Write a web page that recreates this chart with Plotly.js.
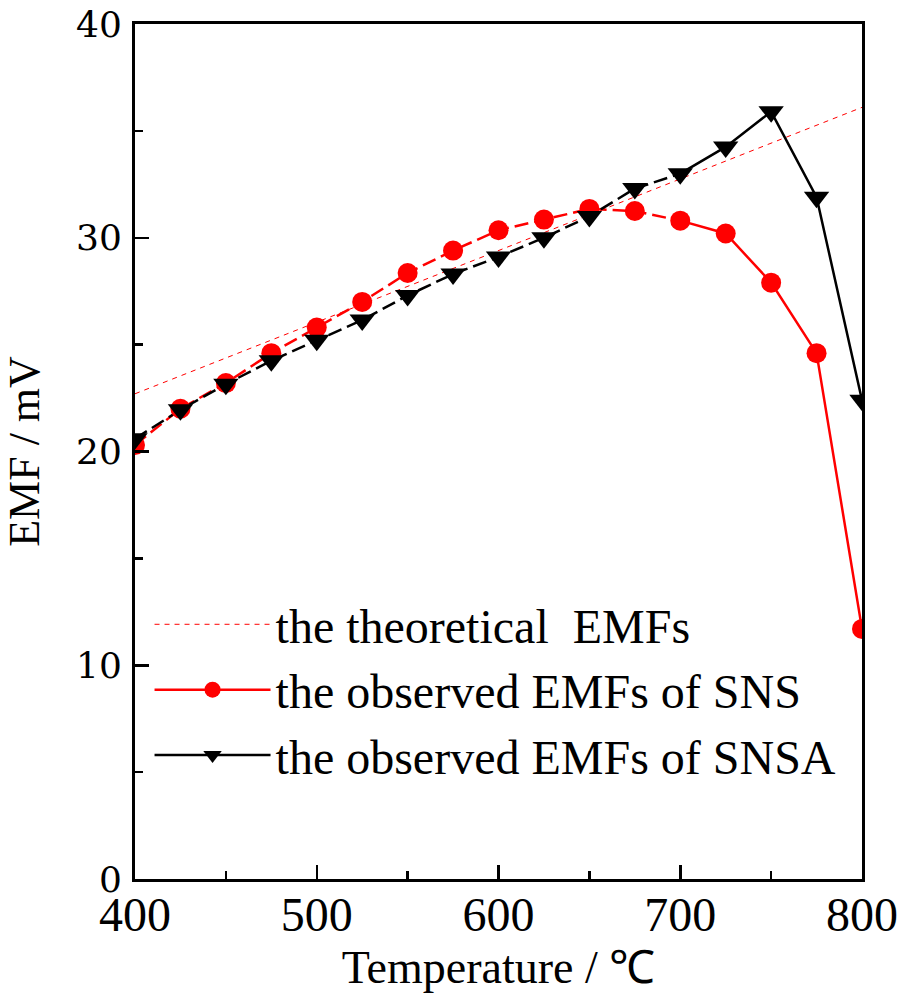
<!DOCTYPE html>
<html>
<head>
<meta charset="utf-8">
<script src="https://cdn.plot.ly/plotly-3.0.1.min.js"></script>
<style>html,body{margin:0;padding:0;background:#fff;}#chart{width:904px;height:993px;}</style>
</head>
<body>
<div id="chart"></div>
<script>
// Data
var temps = [400,425,450,475,500,525,550,575,600,625,650,675,700,725,750,775,800];
var sns   = [20.3,22.0,23.2,24.6,25.8,27.0,28.35,29.4,30.35,30.85,31.35,31.25,30.8,30.2,27.9,24.6,11.7];
var snsa  = [20.6,21.95,23.15,24.25,25.2,26.15,27.3,28.3,29.1,30.0,31.0,32.3,33.0,34.25,35.9,31.9,22.4];
var theoTemps = [400,800];
var theo      = [22.7,36.1];
var xTicks = [400,500,600,700,800];
var yTicks = [0,10,20,30,40];
var names = ['the theoretical  EMFs','the observed EMFs of SNS','the observed EMFs of SNSA'];

var split = temps.indexOf(700);
var dashPat = '14px,6px';
var serif = 'Liberation Serif';

var traces = [
  {x: theoTemps, y: theo, mode:'lines', name: names[0],
   line:{color:'#ff0000', width:1, dash:'5px,5px'}},
  {x: temps.slice(0,split+1), y: sns.slice(0,split+1), mode:'lines', showlegend:false,
   line:{color:'#ff0000', width:2.5, dash:dashPat}},
  {x: temps.slice(0,split+1), y: snsa.slice(0,split+1), mode:'lines', showlegend:false,
   line:{color:'#000000', width:2.5, dash:dashPat}},
  {x: temps.slice(0,split), y: sns.slice(0,split), mode:'markers', showlegend:false,
   marker:{symbol:'circle', size:20, color:'#ff0000'}},
  {x: temps.slice(0,split), y: snsa.slice(0,split), mode:'markers', showlegend:false,
   marker:{symbol:'triangle-down', size:22, color:'#000000'}},
  {x: temps.slice(split), y: sns.slice(split), mode:'lines+markers', name: names[1],
   line:{color:'#ff0000', width:2.5}, marker:{symbol:'circle', size:20, color:'#ff0000'}},
  {x: temps.slice(split), y: snsa.slice(split), mode:'lines+markers', name: names[2],
   line:{color:'#000000', width:2.5}, marker:{symbol:'triangle-down', size:22, color:'#000000'}}
];

var layout = {
  width: 904, height: 993,
  margin: {l:135, r:42, t:24, b:114},
  paper_bgcolor:'#ffffff', plot_bgcolor:'#ffffff',
  showlegend: true,
  legend: {x:0.02, y:0.342, xanchor:'left', yanchor:'top', bgcolor:'rgba(0,0,0,0)',
           itemwidth:116, font:{family:serif, size:48, color:'#000'},
           traceorder:'normal'},
  xaxis: {range:[400,800], tickvals:xTicks, ticktext:xTicks.map(String),
          showgrid:false, zeroline:false, showline:true, linecolor:'#000', linewidth:3, mirror:true,
          ticks:'inside', ticklen:14, tickwidth:2.5, tickcolor:'#000', ticklabelstandoff:-9,
          minor:{ticks:'inside', ticklen:8, tickwidth:2.5, tickcolor:'#000', dtick:50, showgrid:false},
          tickfont:{family:serif, size:48, color:'#000'},
          title:{text:'Temperature / ℃', font:{family:serif, size:46, color:'#000'}, standoff:32}},
  yaxis: {range:[0,40], tickvals:yTicks, ticktext:yTicks.map(String),
          showgrid:false, zeroline:false, showline:true, linecolor:'#000', linewidth:3, mirror:true,
          ticks:'inside', ticklen:14, tickwidth:2.5, tickcolor:'#000', ticklabelstandoff:3,
          minor:{ticks:'inside', ticklen:8, tickwidth:2.5, tickcolor:'#000', dtick:5, showgrid:false},
          tickfont:{family:'DejaVu Serif', size:36, color:'#000'},
          title:{text:'EMF / mV', font:{family:serif, size:44, color:'#000'}, standoff:26}}
};

Plotly.newPlot('chart', traces, layout, {displayModeBar:false, staticPlot:true});
</script>
</body>
</html>
